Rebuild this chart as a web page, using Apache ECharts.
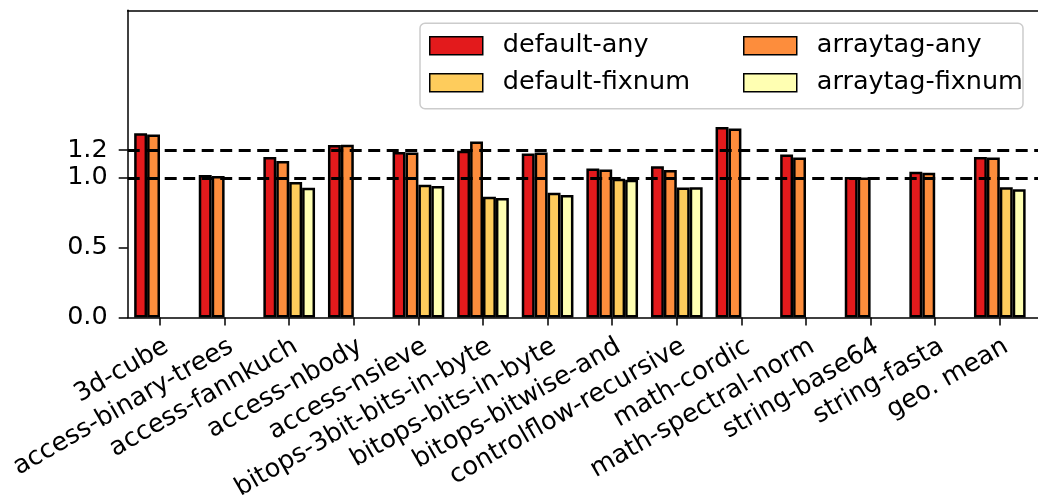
<!DOCTYPE html>
<html>
<head>
<meta charset="utf-8">
<script src="https://cdn.jsdelivr.net/npm/echarts@6/dist/echarts.min.js"></script>
<style>
  html, body { margin: 0; padding: 0; background: #fff; }
  #chart { width: 1038px; height: 498px; }
</style>
</head>
<body>
<div id="chart"></div>
<script>
// Benchmarks on the x axis, the last entry is the geometric mean
const categories = [
  '3d-cube', 'access-binary-trees', 'access-fannkuch', 'access-nbody',
  'access-nsieve', 'bitops-3bit-bits-in-byte', 'bitops-bits-in-byte',
  'bitops-bitwise-and', 'controlflow-recursive', 'math-cordic',
  'math-spectral-norm', 'string-base64', 'string-fasta', 'geo. mean'
];

const seriesNames = ['default-any', 'arraytag-any', 'default-fixnum', 'arraytag-fixnum'];

// Relative run time per configuration (null = configuration not measured)
const defaultAny     = [1.32, 1.02, 1.15, 1.235, 1.186, 1.194, 1.175, 1.067, 1.084, 1.365, 1.167, 1.007, 1.043, 1.15];
const arraytagAny    = [1.31, 1.014, 1.12, 1.237, 1.182, 1.261, 1.182, 1.06, 1.057, 1.354, 1.146, 1.003, 1.036, 1.146];
const defaultFixnum  = [null, null, 0.971, null, 0.95, 0.864, 0.893, 0.993, 0.931, null, null, null, null, 0.933];
const arraytagFixnum = [null, null, 0.929, null, 0.941, 0.855, 0.878, 0.986, 0.933, null, null, null, null, 0.919];

const yTicks = [0, 0.5, 1.0, 1.2];
const refLines = [1.0, 1.2];

const colors = ['#e31a1c', '#fd8d3c', '#fecc5c', '#ffffb2'];
const FONT = 'DejaVu Sans';
const FS = 25.5;

const chart = echarts.init(document.getElementById('chart'), null, { renderer: 'canvas' });

// one trailing blank slot so the axes run off the right edge of the page
const axisCats = categories.concat(['']);

const barSeries = [defaultAny, arraytagAny, defaultFixnum, arraytagFixnum].map((vals, i) => ({
  name: seriesNames[i],
  type: 'bar',
  data: vals,
  xAxisIndex: 0,
  barGap: '0%',
  barCategoryGap: '20%',
  z: 3,
  itemStyle: { color: colors[i], borderColor: '#000', borderWidth: 2.5 }
}));

const guideSeries = {
  name: 'guides',
  type: 'line',
  data: [],
  z: 1,
  silent: true,
  markLine: {
    silent: true,
    symbol: ['none', 'none'],
    label: { show: false },
    lineStyle: { color: '#000', width: 3, type: [12, 6.5] },
    data: refLines.map(v => ({ yAxis: v }))
  }
};

const legendBase = {
  orient: 'vertical',
  top: 23.3,
  itemWidth: 53,
  itemHeight: 18,
  itemGap: 11,
  icon: 'rect',
  itemStyle: { borderColor: '#000', borderWidth: 1.5 },
  textStyle: {
    fontFamily: FONT, fontSize: FS, color: '#000',
    padding: [0, 0, 0, 15]
  },
  selectedMode: false
};

chart.setOption({
  animation: false,
  backgroundColor: '#fff',
  grid: {
    left: 127.7, top: 10.3, width: 969, bottom: 180.5,
    containLabel: false, outerBoundsMode: 'none'
  },
  legend: [
    Object.assign({}, legendBase, {
      data: [seriesNames[0], seriesNames[2]],
      left: 420,
      padding: [9.5, 333, 13, 9],
      backgroundColor: 'rgba(255,255,255,0.8)',
      borderColor: '#cccccc',
      borderWidth: 1.5,
      borderRadius: 5,
      textStyle: Object.assign({}, legendBase.textStyle, { width: 200 })
    }),
    Object.assign({}, legendBase, {
      data: [seriesNames[1], seriesNames[3]],
      left: 734,
      padding: [9.5, 0, 13, 9],
      z: 10
    })
  ],
  xAxis: [
    {
      type: 'category',
      data: axisCats,
      position: 'bottom',
      axisLine: { lineStyle: { color: '#000', width: 1.5 } },
      axisTick: { show: true, alignWithLabel: true, length: 8, lineStyle: { color: '#000', width: 1.5 } },
      axisLabel: {
        interval: 0, rotate: 30, margin: 16,
        align: 'right', verticalAlign: 'top',
        fontFamily: FONT, fontSize: FS, color: '#000'
      },
      splitLine: { show: false }
    },
    {
      type: 'category',
      data: axisCats,
      position: 'top',
      axisLine: { show: true, lineStyle: { color: '#000', width: 1.5 } },
      axisTick: { show: false },
      axisLabel: { show: false },
      splitLine: { show: false }
    }
  ],
  yAxis: {
    type: 'value',
    min: 0,
    max: 2.2,
    interval: 0.1,
    axisLine: { show: true, lineStyle: { color: '#000', width: 1.5 } },
    axisTick: {
      show: true, length: 9, customValues: yTicks,
      lineStyle: { color: '#000', width: 1.5 }
    },
    axisLabel: {
      customValues: yTicks,
      margin: 20,
      fontFamily: FONT, fontSize: FS, color: '#000',
      formatter: v => v.toFixed(1)
    },
    splitLine: { show: false }
  },
  series: barSeries.concat([guideSeries])
});
</script>
</body>
</html>
